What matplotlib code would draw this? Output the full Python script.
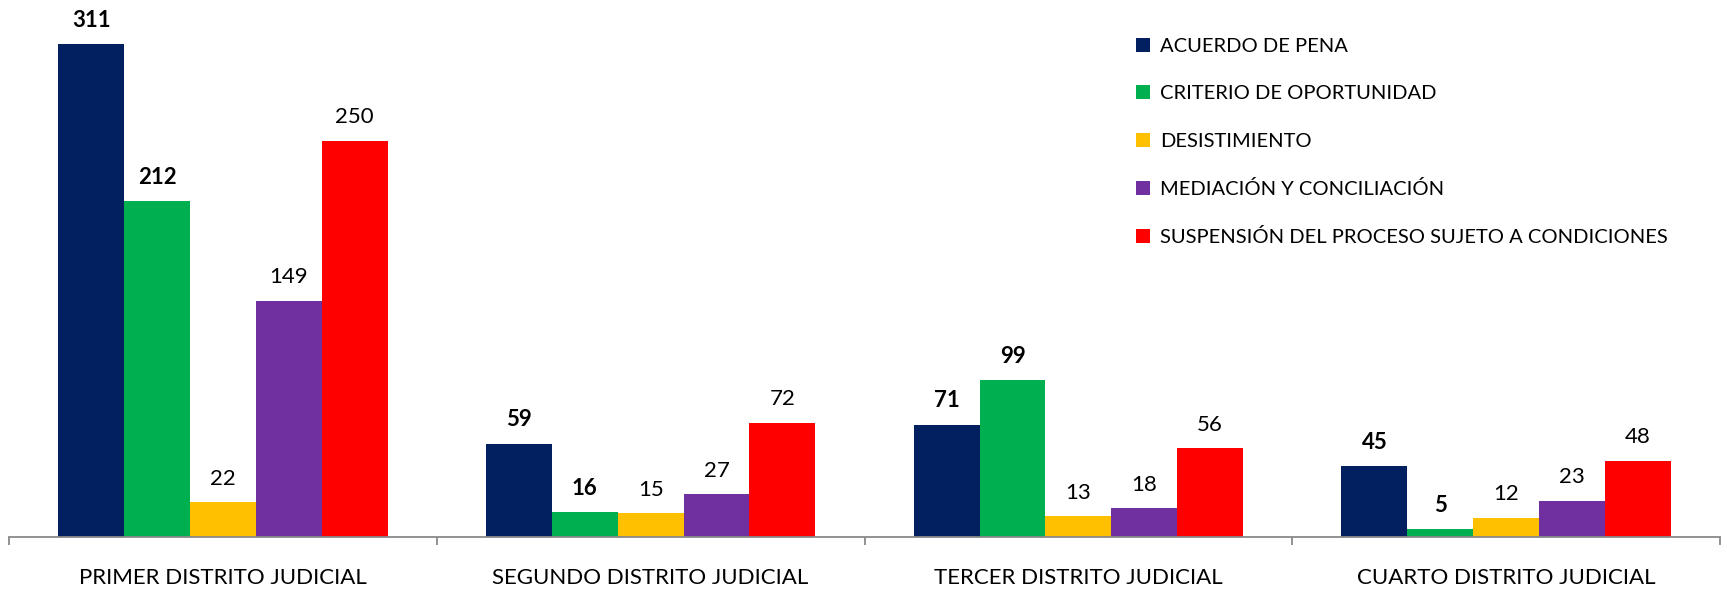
import numpy as np
import matplotlib.pyplot as plt

plt.rcParams['font.family'] = ['Lato', 'DejaVu Sans']

#############################

distritos = ['PRIMER DISTRITO JUDICIAL', 'SEGUNDO DISTRITO JUDICIAL',
             'TERCER DISTRITO JUDICIAL', 'CUARTO DISTRITO JUDICIAL']
series = ['ACUERDO DE PENA', 'CRITERIO DE OPORTUNIDAD', 'DESISTIMIENTO',
          'MEDIACIÓN Y CONCILIACIÓN', 'SUSPENSIÓN DEL PROCESO SUJETO A CONDICIONES']
acuerdo = [311, 59, 71, 45]
criterio = [212, 16, 99, 5]
desistimiento = [22, 15, 13, 12]
mediacion = [149, 27, 18, 23]
suspension = [250, 72, 56, 48]
colores = ['#02205f', '#00b050', '#ffc000', '#7030a0', '#ff0000']
negrita = [True, True, False, False, False]

valores = [acuerdo, criterio, desistimiento, mediacion, suspension]

## figure
fig = plt.figure(figsize=(17.27, 5.89), dpi=100)
ax = fig.add_axes([9/1727, 52/589, 1711/1727, 537/589])

x = np.arange(len(distritos))
w = 0.154
for i, (vals, name, c, b) in enumerate(zip(valores, series, colores, negrita)):
    pos = x + (i - 2) * w
    ax.bar(pos, vals, width=w, color=c, label=name, zorder=2)
    for p, v in zip(pos, vals):
        ax.annotate(str(v), (p, v), xytext=(0, 17), textcoords='offset points',
                    ha='center', va='center', fontsize=16,
                    fontweight='bold' if b else 'normal')

ax.set_xlim(-0.5, len(distritos) - 0.5)
ax.set_ylim(0, 339)

## axis styling
for s in ['top', 'right', 'left']:
    ax.spines[s].set_visible(False)
ax.spines['bottom'].set_color('#898989')
ax.spines['bottom'].set_linewidth(1.3)
ax.set_yticks([])
ax.set_xticks(np.arange(-0.5, len(distritos)), minor=False)
ax.set_xticklabels([])
ax.tick_params(axis='x', which='major', direction='out', length=6, width=1.3, color='#898989')
ax.set_xticks(x, minor=True)
ax.set_xticklabels(distritos, minor=True, fontsize=16)
ax.tick_params(axis='x', which='minor', length=0, pad=22)

## legend
leg = ax.legend(loc='upper left', bbox_to_anchor=(1119/1711, 1 - 30/537), frameon=False,
                fontsize=14.5, handlelength=0.7, handleheight=0.7, handletextpad=0.5,
                labelspacing=1.5, borderaxespad=0)

fig.savefig('out.png', dpi=100)
